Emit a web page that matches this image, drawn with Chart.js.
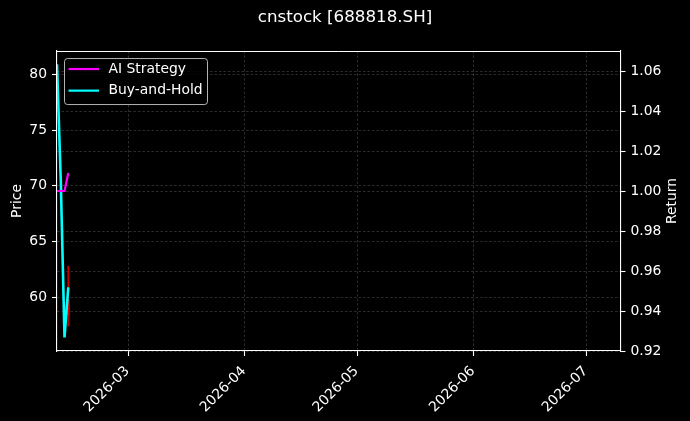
<!DOCTYPE html>
<html><head><meta charset="utf-8">
<script src="https://cdn.jsdelivr.net/npm/chart.js@4.4.1/dist/chart.umd.min.js"></script>
<style>html,body{margin:0;padding:0;background:#000;overflow:hidden}</style>
</head><body>
<canvas id="c" width="690" height="421" style="width:690px;height:421px;display:block;background:#000"></canvas>
<script>
// ---- data ----
const titleText = 'cnstock [688818.SH]';
const dates = ['2026-02-10', '2026-02-11', '2026-02-12', '2026-02-13'];
const aiStrategy = [1.000, 1.000, 1.000, 1.009];
const buyAndHold = [80.9, 70.5, 56.4, 60.9];
const wickLow = [null, null, null, 57.4];
const wickHigh = [null, null, null, 62.8];
const bodyLow = [null, null, null, 58.4];
const bodyHigh = [null, null, null, 59.8];
const xTickLabels = ['2026-03', '2026-04', '2026-05', '2026-06', '2026-07'];
const priceTicks = [60, 65, 70, 75, 80];
const returnTicks = [0.92, 0.94, 0.96, 0.98, 1.00, 1.02, 1.04, 1.06];
const xRange = ['2026-02-10', '2026-07-10'];
const priceRange = [55.18, 82.09];
const returnRange = [0.92, 1.07];
const leftTitle = 'Price';
const rightTitle = 'Return';

// ---- helpers ----
const dayNum = s => Date.UTC(+s.slice(0,4), +s.slice(5,7) - 1, s.length > 7 ? +s.slice(8,10) : 1) / 86400000;
const pts = (arr) => dates.map((d, i) => ({x: dayNum(d), y: arr[i]})).filter(p => p.y !== null);
const rangePts = (lo, hi) => dates.map((d, i) => ({x: dayNum(d), y: [lo[i], hi[i]]})).filter(p => p.y[0] !== null);

const FONT = 'DejaVu Sans';
const gridColor = 'rgba(255,255,255,0.22)';
const gridDash = [2.5, 2];

const framePlugin = {
  id: 'frame',
  afterDatasetsDraw(chart) {
    const {ctx, chartArea: a} = chart;
    const yTop = Math.round(a.top) + 0.5;
    ctx.save();
    ctx.strokeStyle = '#fff';
    ctx.lineWidth = 1;
    ctx.beginPath();
    ctx.moveTo(a.left, yTop);
    ctx.lineTo(a.right, yTop);
    ctx.stroke();
    ctx.restore();
  },
  afterDraw(chart) {
    // right axis title, reading bottom-to-top like matplotlib
    const {ctx, chartArea: a} = chart;
    ctx.save();
    ctx.font = '13.9px "' + FONT + '"';
    ctx.fillStyle = '#fff';
    ctx.textAlign = 'center';
    ctx.textBaseline = 'middle';
    ctx.translate(chart.width - 17.3, (a.top + a.bottom) / 2);
    ctx.rotate(-Math.PI / 2);
    ctx.fillText(rightTitle, 0, 0);
    ctx.restore();
  }
};

const legendPlugin = {
  id: 'mplLegend',
  afterDraw(chart) {
    const {ctx, chartArea: a} = chart;
    const items = chart.data.datasets.filter(d => d.inLegend);
    const x = a.left + 7.5, y = a.top + 7.5, w = 143, h = 46, r = 3;
    ctx.save();
    ctx.beginPath();
    ctx.moveTo(x + r, y);
    ctx.arcTo(x + w, y, x + w, y + h, r);
    ctx.arcTo(x + w, y + h, x, y + h, r);
    ctx.arcTo(x, y + h, x, y, r);
    ctx.arcTo(x, y, x + w, y, r);
    ctx.closePath();
    ctx.fillStyle = 'rgba(0,0,0,0.8)';
    ctx.fill();
    ctx.strokeStyle = 'rgba(210,210,210,0.85)';
    ctx.lineWidth = 1;
    ctx.stroke();
    ctx.font = '13.9px "' + FONT + '"';
    ctx.textBaseline = 'middle';
    ctx.textAlign = 'left';
    items.forEach((d, i) => {
      const cy = y + 10.5 + i * 21.6;
      ctx.strokeStyle = d.borderColor;
      ctx.lineWidth = 2.2;
      ctx.beginPath();
      ctx.moveTo(x + 4, cy);
      ctx.lineTo(x + 34.5, cy);
      ctx.stroke();
      ctx.fillStyle = '#fff';
      ctx.fillText(d.label, x + 44, cy);
    });
    ctx.restore();
  }
};

new Chart(document.getElementById('c'), {
  type: 'line',
  data: {
    datasets: [
      { label: 'AI Strategy', inLegend: true, data: pts(aiStrategy), yAxisID: 'y2',
        borderColor: '#ff00ff', borderWidth: 2.2, pointRadius: 0, tension: 0, fill: false },
      { label: 'Buy-and-Hold', inLegend: true, data: pts(buyAndHold), yAxisID: 'y',
        borderColor: '#00ffff', borderWidth: 2.6, pointRadius: 0, tension: 0, fill: false },
      { type: 'bar', label: 'body', data: rangePts(bodyLow, bodyHigh), yAxisID: 'y',
        backgroundColor: '#e00000', borderWidth: 0, barThickness: 2.2, grouped: false },
      { type: 'bar', label: 'wick', data: rangePts(wickLow, wickHigh), yAxisID: 'y',
        backgroundColor: '#c80000', borderWidth: 0, barThickness: 1.1, grouped: false }
    ]
  },
  options: {
    responsive: false,
    animation: false,
    devicePixelRatio: 1,
    layout: { padding: 0 },
    plugins: {
      legend: { display: false },
      tooltip: { enabled: false },
      title: { display: true, text: titleText, color: '#fff',
        font: { family: FONT, size: 16.7, weight: 'normal', lineHeight: 1.2 },
        padding: { top: 8, bottom: 23 } }
    },
    scales: {
      x: {
        type: 'linear', position: 'bottom', offset: false,
        min: dayNum(xRange[0]), max: dayNum(xRange[1]),
        afterBuildTicks: s => { s.ticks = xTickLabels.map(l => ({ value: dayNum(l) })); },
        afterFit: s => { s.height = 70; },
        ticks: { color: '#fff', font: { family: FONT, size: 13.9 }, autoSkip: false,
          minRotation: 45, maxRotation: 45, padding: 7, labelOffset: -1,
          callback: (v, i) => xTickLabels[i] },
        grid: { offset: false, color: gridColor, lineWidth: 0.8, tickColor: '#fff', tickLength: 5, tickWidth: 1.1 },
        border: { display: true, color: '#fff', width: 1.1, dash: gridDash }
      },
      y: {
        type: 'linear', position: 'left',
        min: priceRange[0], max: priceRange[1],
        afterBuildTicks: s => { s.ticks = priceTicks.map(v => ({ value: v })); },
        afterFit: s => { s.width = 57; },
        ticks: { color: '#fff', font: { family: FONT, size: 13.9 }, padding: 5,
          callback: v => String(v) },
        grid: { color: gridColor, lineWidth: 0.8, tickColor: '#fff', tickLength: 5, tickWidth: 1.1 },
        border: { display: true, color: '#fff', width: 1.1, dash: gridDash },
        title: { display: true, text: leftTitle, color: '#fff',
          font: { family: FONT, size: 13.9 }, padding: { top: 9, bottom: 0 } }
      },
      y2: {
        type: 'linear', position: 'right',
        min: returnRange[0], max: returnRange[1],
        afterBuildTicks: s => { s.ticks = returnTicks.map(v => ({ value: v })); },
        afterFit: s => { s.width = 69.5; },
        ticks: { color: '#fff', font: { family: FONT, size: 13.9 }, padding: 5,
          callback: v => v.toFixed(2) },
        grid: { color: gridColor, lineWidth: 0.8, tickColor: '#fff', tickLength: 5, tickWidth: 1.1, drawOnChartArea: true },
        border: { display: true, color: '#fff', width: 1.1, dash: gridDash },
        title: { display: false }
      }
    }
  },
  plugins: [framePlugin, legendPlugin]
});
</script>
</body></html>
